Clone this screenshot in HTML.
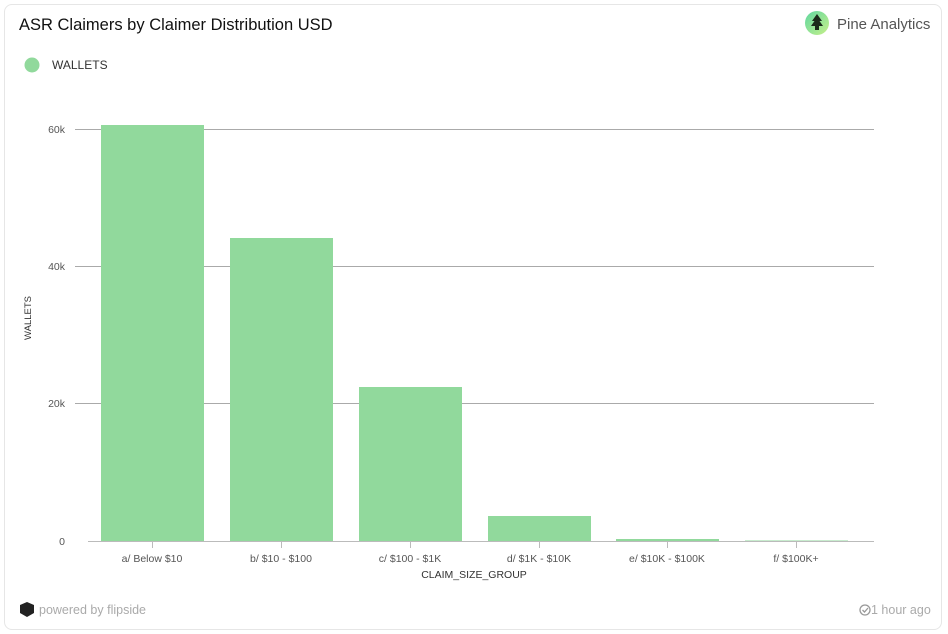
<!DOCTYPE html>
<html><head><meta charset="utf-8"><style>
body{margin:0;background:#fff;width:948px;height:634px;overflow:hidden;font-family:"Liberation Sans",sans-serif;}
.card{position:absolute;left:4px;top:4px;width:938px;height:626px;border:1px solid #e6e6e6;border-radius:8px;box-sizing:border-box;}
</style></head><body>
<div class="card"></div>
<svg width="948" height="634" style="position:absolute;left:0;top:0" font-family="Liberation Sans, sans-serif">
<text x="19" y="30" font-size="16.5" fill="#111">ASR Claimers by Claimer Distribution USD</text>
<defs><linearGradient id="g" x1="0" y1="0" x2="1" y2="1"><stop offset="0" stop-color="#5fd7a0"/><stop offset="1" stop-color="#c7f08a"/></linearGradient></defs>
<circle cx="817" cy="23" r="12" fill="url(#g)"/>
<path d="M817 14 L812 21 L814.5 21 L811 26 L815 26 L815 30 L819 30 L819 26 L823 26 L819.5 21 L822 21 Z" fill="#1a2a1a"/>
<text x="837" y="29" font-size="15" fill="#555">Pine Analytics</text>
<circle cx="32" cy="65" r="7.5" fill="#91d99c"/>
<text x="52" y="69" font-size="12" fill="#333">WALLETS</text>
<g stroke="#aaa" stroke-width="1">
<line x1="75" y1="129.5" x2="874" y2="129.5"/>
<line x1="75" y1="266.5" x2="874" y2="266.5"/>
<line x1="75" y1="403.5" x2="874" y2="403.5"/>
</g>
<g font-size="10.5" fill="#555" text-anchor="end">
<text x="65" y="133">60k</text><text x="65" y="270">40k</text><text x="65" y="407">20k</text><text x="65" y="545">0</text>
</g>
<g fill="#91d99c">
<rect x="101" y="125" width="103" height="416"/>
<rect x="230" y="238" width="103" height="303"/>
<rect x="359" y="387" width="103" height="154"/>
<rect x="488" y="516" width="103" height="25"/>
<rect x="616" y="539" width="103" height="2"/>
<rect x="745" y="540.5" width="103" height="0.8"/>
</g>
<line x1="88" y1="541.5" x2="874" y2="541.5" stroke="#bbb"/>
<g stroke="#bbb"><line x1="152.5" y1="541" x2="152.5" y2="548"/><line x1="281.5" y1="541" x2="281.5" y2="548"/><line x1="410.5" y1="541" x2="410.5" y2="548"/><line x1="539.5" y1="541" x2="539.5" y2="548"/><line x1="667.5" y1="541" x2="667.5" y2="548"/><line x1="796.5" y1="541" x2="796.5" y2="548"/></g>
<g font-size="10.5" fill="#555" text-anchor="middle">
<text x="152" y="562">a/ Below $10</text><text x="281" y="562">b/ $10 - $100</text><text x="410" y="562">c/ $100 - $1K</text><text x="539" y="562">d/ $1K - $10K</text><text x="667" y="562">e/ $10K - $100K</text><text x="796" y="562">f/ $100K+</text>
<text x="474" y="578" fill="#333">CLAIM_SIZE_GROUP</text>
</g>
<text transform="translate(31,318) rotate(-90)" font-size="9.5" fill="#333" text-anchor="middle">WALLETS</text>
<path d="M20 605 L27 602 L34 605 L34 613 L27 617 L20 613 Z" fill="#222"/>
<text x="39" y="614" font-size="12.5" fill="#aaa">powered by flipside</text>
<circle cx="865" cy="610" r="5" fill="none" stroke="#999" stroke-width="1.3"/>
<path d="M862.5 610 L864.5 612 L868 608" fill="none" stroke="#999" stroke-width="1.3"/>
<text x="871" y="614" font-size="12.5" fill="#aaa">1 hour ago</text>
</svg>
</body></html>
